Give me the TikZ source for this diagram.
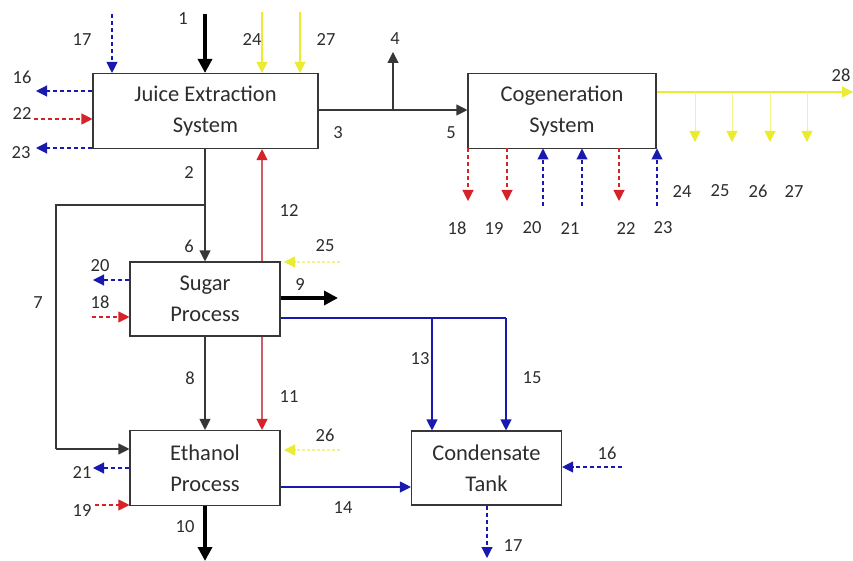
\documentclass[tikz,border=0pt]{standalone}
\usepackage{fontspec}
\setmainfont{Carlito}
\usetikzlibrary{arrows.meta,calc}
\definecolor{ink}{RGB}{55,55,55}
\definecolor{txt}{RGB}{45,45,45}
\definecolor{flowblue}{RGB}{25,25,175}
\definecolor{flowred}{RGB}{215,35,40}
\definecolor{pinkline}{RGB}{205,95,105}
\definecolor{flowyellow}{RGB}{235,235,50}
\definecolor{paleyellow}{RGB}{242,242,140}
\begin{document}
\begin{tikzpicture}[x=1pt,y=-1pt,
  unit/.style={draw=ink,line width=1.1pt,fill=white,align=center,
    font=\fontsize{22.5}{31}\selectfont,text=txt,inner sep=0pt},
  lbl/.style={font=\fontsize{18.5}{20}\selectfont,text=txt,inner sep=1pt},
  tip/.style={-{Triangle[length=11pt,width=11pt]}},
  main/.style={tip,draw=ink,line width=1.1pt},
  plain/.style={draw=ink,line width=1.1pt},
  heavy/.style={-{Triangle[length=14pt,width=14pt]},draw=black,line width=3.4pt},
  water/.style={tip,draw=flowblue,line width=1.1pt},
  waterd/.style={water,dash pattern=on 4pt off 3pt},
  heatd/.style={tip,draw=flowred,line width=1.1pt,dash pattern=on 4pt off 3pt},
  heat/.style={-{Triangle[length=11pt,width=11pt,color=flowred]},draw=pinkline,line width=1.1pt},
  power/.style={-{Triangle[length=11pt,width=11pt,color=flowyellow]},draw=flowyellow,line width=1.2pt},
  powerd/.style={-{Triangle[length=11pt,width=11pt,color=flowyellow]},draw=paleyellow,line width=1.2pt,dash pattern=on 3pt off 2pt},
  powerl/.style={-{Triangle[length=11pt,width=11pt,color=flowyellow]},draw=paleyellow,line width=1pt}
]
\useasboundingbox (0,0) rectangle (853,561);

% process units
\node[unit,minimum width=225pt,minimum height=75pt] (je)  at (205.5,111) {Juice Extraction\\System};
\node[unit,minimum width=188pt,minimum height=75pt] (cog) at (562,111)   {Cogeneration\\System};
\node[unit,minimum width=150pt,minimum height=74pt] (sp)  at (205,299)   {Sugar\\Process};
\node[unit,minimum width=150pt,minimum height=75pt] (ep)  at (205,468)   {Ethanol\\Process};
\node[unit,minimum width=150pt,minimum height=74pt] (ct)  at (486.5,468) {Condensate\\Tank};

% free ends of the streams
\coordinate (s1)  at (205,14);
\coordinate (s17) at (112,14);
\coordinate (s24) at (262,12);
\coordinate (s27) at (300,12);
\coordinate (s16) at (36,91);
\coordinate (s22) at (34,119);
\coordinate (s23) at (36,148);
\coordinate (j3)  at (393,110);
\coordinate (s4)  at (393,52);
\coordinate (s28) at (853,92);
\coordinate (j7)  at (205,205);
\coordinate (c7a) at (56,205);
\coordinate (c7b) at (56,449);
\coordinate (s20) at (93,280);
\coordinate (s18) at (92,317);
\coordinate (s25) at (340,262);
\coordinate (s9)  at (338,298);
\coordinate (b13) at (432,318);
\coordinate (b15) at (506,318);
\coordinate (s21) at (93,468);
\coordinate (s19) at (95,505);
\coordinate (s26) at (340,450);
\coordinate (s10) at (205,561);
\coordinate (s16b) at (622,467);
\coordinate (s17b) at (487,558);

% feeds to juice extraction
\draw[heavy] (s1) -- (s1 |- je.north);
\draw[waterd] (s17) -- (s17 |- je.north);
\draw[power] (s24) -- (s24 |- je.north);
\draw[power] (s27) -- (s27 |- je.north);
\draw[waterd] (je.west |- s16) -- (s16);
\draw[heatd] (s22) -- (je.west |- s22);
\draw[waterd] (je.west |- s23) -- (s23);

% bagasse to cogeneration
\draw[main] (je.east |- j3) -- (cog.west |- j3);
\draw[main] (j3) -- (s4);

% cogeneration utilities
\foreach \x in {468,507,619}
  \draw[heatd] (\x,148.5) -- (\x,201);
\foreach \x in {543,582,657}
  \draw[waterd] (\x,206) -- (\x,148.5);
\draw[power] (cog.east |- s28) -- (s28);
\foreach \x in {695,732,770,807}
  \draw[powerl] (\x,92) -- (\x,142);

% juice to sugar and ethanol
\draw[main] (je.south -| j7) -- (sp.north -| j7);
\draw[plain] (j7) -- (c7a) -- (c7b);
\draw[main] (c7b) -- (ep.west |- c7b);
\draw[heat] (sp.north -| 262,0) -- (je.south -| 262,0);

% sugar process streams
\draw[powerd] (s25) -- (284,262);
\draw[waterd] (sp.west |- s20) -- (s20);
\draw[heatd] (s18) -- (sp.west |- s18);
\draw[heavy] (sp.east |- s9) -- (s9);
\draw[plain,draw=flowblue] (sp.east |- b13) -- (b15);
\draw[water] (b13) -- (b13 |- ct.north);
\draw[water] (b15) -- (b15 |- ct.north);
\draw[main] (sp.south) -- (ep.north);
\draw[heat] (sp.south -| 262,0) -- (ep.north -| 262,0);

% ethanol process streams
\draw[powerd] (s26) -- (284,450);
\draw[waterd] (ep.west |- s21) -- (s21);
\draw[heatd] (s19) -- (ep.west |- s19);
\draw[heavy] (ep.south) -- (s10);
\draw[water] (ep.east |- 0,487) -- (ct.west |- 0,487);

% condensate tank streams
\draw[waterd] (s16b) -- (ct.east |- s16b);
\draw[waterd] (ct.south -| s17b) -- (s17b);

% stream numbers
\node[lbl] (n1)  at (183,19) {1};
\node[lbl] (n17a) at (82,40) {17};
\node[lbl] (n24a) at (252,40) {24};
\node[lbl] (n27a) at (326,40) {27};
\node[lbl] (n16a) at (22,77) {16};
\node[lbl] (n22a) at (22,113) {22};
\node[lbl] (n23a) at (21,153) {23};
\node[lbl] (n3)  at (338,133) {3};
\node[lbl] (n4)  at (395,39) {4};
\node[lbl] (n5)  at (451,133) {5};
\node[lbl] (n18a) at (457,228) {18};
\node[lbl] (n19a) at (494,228) {19};
\node[lbl] (n20a) at (532,228) {20};
\node[lbl] (n21a) at (570,228) {21};
\node[lbl] (n22b) at (626,228) {22};
\node[lbl] (n23b) at (663,228) {23};
\node[lbl] (n24b) at (682,191) {24};
\node[lbl] (n25b) at (720,191) {25};
\node[lbl] (n26b) at (758,191) {26};
\node[lbl] (n27b) at (794,191) {27};
\node[lbl] (n28) at (841,75) {28};
\node[lbl] (n2)  at (189,172) {2};
\node[lbl] (n12) at (289,210) {12};
\node[lbl] (n6)  at (189,246) {6};
\node[lbl] (n25a) at (325,246) {25};
\node[lbl] (n7)  at (38,303) {7};
\node[lbl] (n20b) at (100,266) {20};
\node[lbl] (n18b) at (100,302) {18};
\node[lbl] (n9)  at (300,284) {9};
\node[lbl] (n13) at (420,359) {13};
\node[lbl] (n15) at (532,378) {15};
\node[lbl] (n8)  at (190,378) {8};
\node[lbl] (n11) at (289,397) {11};
\node[lbl] (n26a) at (325,435) {26};
\node[lbl] (n21b) at (82,472) {21};
\node[lbl] (n19b) at (82,510) {19};
\node[lbl] (n10) at (185,527) {10};
\node[lbl] (n14) at (343,508) {14};
\node[lbl] (n16b) at (607,453) {16};
\node[lbl] (n17b) at (513,546) {17};
\end{tikzpicture}
\end{document}
